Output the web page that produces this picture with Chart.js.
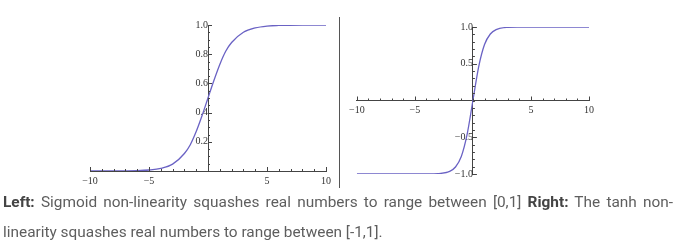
<!DOCTYPE html>
<html>
<head>
<meta charset="utf-8">
<script src="https://cdn.jsdelivr.net/npm/chart.js@4/dist/chart.umd.min.js"></script>
<style>
	body { margin: 0; background: #fff; width: 681px; height: 250px; position: relative; overflow: hidden; }
	canvas { position: absolute; }
	#leftChart { left: 70px; top: 10px; }
	#rightChart { left: 345px; top: 10px; }
	#divider { position: absolute; left: 339px; top: 17px; width: 1px; height: 171px; background: #555; }
	#caption {
		position: absolute; left: 3px; top: 187px; width: 670px;
		font-family: Roboto, sans-serif; font-size: 15.4px; line-height: 30px;
		color: #5e5e5e; text-align: justify;
	}
	#caption b { color: #444; font-weight: 700; }
</style>
</head>
<body>
<canvas id="leftChart" width="275" height="185"></canvas>
<div id="divider"></div>
<canvas id="rightChart" width="260" height="185"></canvas>
<div id="caption"><b>Left:</b> Sigmoid non-linearity squashes real numbers to range between [0,1] <b>Right:</b> The tanh non-linearity squashes real numbers to range between [-1,1].</div>

<script>
// -------------------- Data -------------------- //
const sigmoidX = [-10, -8, -6, -5, -4, -3, -2, -1.5, -1, -0.5, 0, 0.5, 1, 1.5, 2, 3, 4, 5, 6, 8, 10];
const sigmoidY = [0.0001, 0.0003, 0.0025, 0.007, 0.018, 0.047, 0.12, 0.18, 0.27, 0.38, 0.5, 0.62, 0.73, 0.82, 0.88, 0.95, 0.98, 0.993, 0.997, 0.9997, 1.0];

const tanhX = [-10, -6, -4, -3, -2, -1.5, -1, -0.5, 0, 0.5, 1, 1.5, 2, 3, 4, 6, 10];
const tanhY = [-1, -1, -0.999, -0.995, -0.964, -0.905, -0.762, -0.462, 0, 0.462, 0.762, 0.905, 0.964, 0.995, 0.999, 1, 1];

const xTickLabels = [-10, -5, 5, 10];
const leftYTickLabels = [0.2, 0.4, 0.6, 0.8, 1.0];
const rightYTickLabels = [-1.0, -0.5, 0.5, 1.0];

const curveColor = '#6a62c4';
const axisColor = '#444';
const tickFont = { family: '"Liberation Serif", "DejaVu Serif", serif', size: 10 };

/// true when v is (close to) one of the labelled values
function isLabelled(v, list) { return list.some(l => Math.abs(l - v) < 1e-6); }

/// minus sign like Mathematica draws it
function fmt(v, digits) { return (v < 0 ? '\u2212' : '') + Math.abs(v).toFixed(digits); }

/// Mathematica style ticks: drawn inward, majors a bit longer
const inwardTicks = {
	id: 'inwardTicks',
	afterDatasetsDraw(chart, args, opts) {
		const ctx = chart.ctx;
		const xs = chart.scales.x, ys = chart.scales.y;
		const x0 = xs.getPixelForValue(0), y0 = ys.getPixelForValue(0);
		ctx.save();
		ctx.strokeStyle = axisColor;
		ctx.lineWidth = 1;
		ctx.beginPath();
		xs.ticks.forEach(t => {
			let px = Math.round(xs.getPixelForValue(t.value)) + 0.5;
			let len = isLabelled(t.value, opts.xMajor) ? 4 : 2;
			ctx.moveTo(px, y0); ctx.lineTo(px, y0 - len);
		});
		ys.ticks.forEach(t => {
			let py = Math.round(ys.getPixelForValue(t.value)) + 0.5;
			let len = isLabelled(t.value, opts.yMajor) ? 4 : 2;
			ctx.moveTo(x0, py); ctx.lineTo(x0 + len, py);
		});
		ctx.stroke();
		ctx.restore();
	}
};

function makeChart(id, xs, ys, yMin, yMax, yStep, yLabels, padding) {
	const points = xs.map((x, i) => ({ x: x, y: ys[i] }));
	return new Chart(document.getElementById(id), {
		type: 'scatter',
		data: {
			datasets: [{
				data: points,
				showLine: true,
				borderColor: curveColor,
				borderWidth: 1.3,
				pointRadius: 0,
				cubicInterpolationMode: 'monotone',
			}]
		},
		options: {
			responsive: false,
			animation: false,
			layout: { padding: padding },
			plugins: {
				legend: { display: false },
				tooltip: { enabled: false },
				inwardTicks: { xMajor: xTickLabels, yMajor: yLabels },
			},
			scales: {
				x: {
					type: 'linear',
					position: { y: 0 },
					min: -10, max: 10,
					grid: { display: false, drawTicks: false },
					border: { display: true, color: axisColor, width: 1 },
					ticks: {
						stepSize: 1, autoSkip: false, maxRotation: 0, maxTicksLimit: 1000,
						padding: 4, color: '#333', font: tickFont,
						callback: v => isLabelled(v, xTickLabels) ? fmt(v, 0) : '',
					},
				},
				y: {
					type: 'linear',
					position: { x: 0 },
					min: yMin, max: yMax,
					grid: { display: false, drawTicks: false },
					border: { display: true, color: axisColor, width: 1 },
					ticks: {
						stepSize: yStep, autoSkip: false, maxTicksLimit: 1000,
						padding: 3, color: '#333', font: tickFont,
						callback: v => isLabelled(v, yLabels) ? fmt(v, 1) : '',
					},
				},
			},
		},
		plugins: [inwardTicks],
	});
}

window.onload = () => {
	makeChart('leftChart', sigmoidX, sigmoidY, 0, 1, 0.05, leftYTickLabels, { left: 20, right: 19, top: 15, bottom: 24 });
	makeChart('rightChart', tanhX, tanhY, -1, 1, 0.1, rightYTickLabels, { left: 10, right: 16, top: 17, bottom: 21 });
};
</script>
</body>
</html>
